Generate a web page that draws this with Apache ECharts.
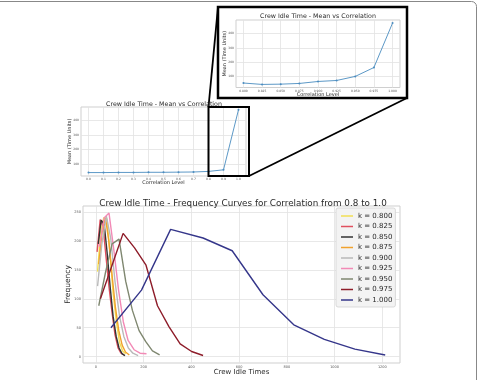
<!DOCTYPE html>
<html>
<head>
<meta charset="utf-8">
<script src="https://cdn.jsdelivr.net/npm/echarts@6/dist/echarts.min.js"></script>
<style>
html,body{margin:0;padding:0;background:#fff}
#main{width:478px;height:380px}
</style>
</head>
<body>
<div id="main"></div>
<script>
// mean idle time, whole correlation range
const corrAll = [0.0, 0.1, 0.2, 0.3, 0.4, 0.5, 0.6, 0.7, 0.8, 0.9, 1.0];
const meanAll = [42, 42, 43, 43, 44, 44, 45, 46, 50, 61, 475];
// mean idle time, zoomed range 0.8 - 1.0
const corrHigh = [0.800, 0.825, 0.850, 0.875, 0.900, 0.925, 0.950, 0.975, 1.000];
const meanHigh = [50, 40, 42, 47, 61, 68, 97, 160, 475];

const meanTicks = [100, 200, 300, 400];
const corrAllTicks = [0.0, 0.1, 0.2, 0.3, 0.4, 0.5, 0.6, 0.7, 0.8, 0.9, 1.0];
const corrHighTicks = [0.800, 0.825, 0.850, 0.875, 0.900, 0.925, 0.950, 0.975, 1.000];
const timeTicks = [0, 200, 400, 600, 800, 1000, 1200];
const freqTicks = [0, 50, 100, 150, 200, 250];

// frequency curves, one per k
const kNames = ['k = 0.800', 'k = 0.825', 'k = 0.850', 'k = 0.875', 'k = 0.900',
                'k = 0.925', 'k = 0.950', 'k = 0.975', 'k = 1.000'];
const kColors = ['#f2df55', '#e0505f', '#333333', '#f0a22e', '#b9b9b9',
                 '#f28ab6', '#7f8770', '#8e1d2a', '#35368a'];
const curveX = [
  [7, 20, 33, 46, 59, 72, 86, 99, 112, 125],
  [5, 18, 30, 43, 55, 68, 80, 93, 105, 118],
  [10, 22, 35, 47, 60, 72, 85, 97, 110, 122],
  [12, 26, 40, 54, 68, 82, 96, 110, 124, 140],
  [7, 25, 44, 62, 80, 99, 117, 136, 155, 177],
  [15, 35, 55, 75, 95, 115, 135, 160, 185, 212],
  [12, 40, 68, 97, 125, 153, 181, 209, 237, 267],
  [19, 67, 114, 162, 210, 258, 306, 353, 401, 449],
  [63, 191, 313, 449, 571, 700, 829, 957, 1085, 1212]
];
const curveY = [
  [147, 215, 240, 238, 180, 110, 60, 25, 10, 5],
  [181, 237, 225, 170, 120, 75, 38, 15, 6, 3],
  [195, 236, 228, 180, 120, 70, 35, 15, 5, 2],
  [160, 215, 240, 200, 140, 85, 45, 20, 8, 3],
  [122, 195, 243, 205, 130, 70, 35, 15, 6, 2],
  [190, 240, 248, 185, 115, 60, 28, 12, 6, 5],
  [88, 145, 195, 203, 130, 80, 45, 26, 10, 3],
  [100, 157, 213, 188, 158, 88, 52, 22, 9, 2],
  [50, 115, 220, 205, 183, 107, 55, 30, 13, 3]
];

const FONT = 'DejaVu Sans';
const chart = echarts.init(document.getElementById('main'));

function axis(gridIndex, min, max, ticks, fmt, labelSize, name, nameSize, nameGap) {
  return {
    type: 'value', gridIndex: gridIndex, min: min, max: max,
    name: name, nameLocation: 'middle', nameGap: nameGap, nameMoveOverlap: false,
    nameTextStyle: { fontFamily: FONT, fontSize: nameSize, color: '#2a2a2a' },
    axisLine: { show: false },
    axisTick: { show: false, customValues: ticks },
    axisLabel: { customValues: ticks, formatter: fmt, fontFamily: FONT,
                 fontSize: labelSize, color: '#555', margin: 2 },
    splitLine: { show: true, lineStyle: { color: '#e2e2e2', width: 0.8 } }
  };
}

const gridStyle = { show: true, borderColor: '#cfcfcf', borderWidth: 1, backgroundColor: '#fff' };

const series = [
  { type: 'line', xAxisIndex: 0, yAxisIndex: 0, data: corrAll.map((c, i) => [c, meanAll[i]]),
    symbol: 'circle', symbolSize: 2, showSymbol: true,
    lineStyle: { width: 0.9, color: '#4a8cc0' }, itemStyle: { color: '#4a8cc0' } },
  { type: 'line', xAxisIndex: 1, yAxisIndex: 1, data: corrHigh.map((c, i) => [c, meanHigh[i]]),
    symbol: 'circle', symbolSize: 2, showSymbol: true,
    lineStyle: { width: 0.9, color: '#4a8cc0' }, itemStyle: { color: '#4a8cc0' } }
];
kNames.forEach((n, i) => {
  series.push({
    name: n, type: 'line', xAxisIndex: 2, yAxisIndex: 2,
    data: curveX[i].map((x, j) => [x, curveY[i][j]]),
    showSymbol: false, color: kColors[i],
    lineStyle: { width: 1.4, color: kColors[i] }
  });
});

chart.setOption({
  animation: false,
  backgroundColor: '#fff',
  grid: [
    Object.assign({ left: 81, top: 107, width: 165, height: 69 }, gridStyle),
    Object.assign({ left: 236, top: 20, width: 164, height: 67.5 }, gridStyle),
    Object.assign({ left: 83, top: 206, width: 317, height: 157 }, gridStyle)
  ],
  xAxis: [
    axis(0, -0.05, 1.05, corrAllTicks, v => v.toFixed(1), 3, 'Correlation Level', 5, 4),
    axis(1, 0.79, 1.01, corrHighTicks, v => v.toFixed(3), 3, 'Correlation Level', 5, 4.5),
    axis(2, -54, 1274, timeTicks, v => String(v), 3.5, 'Crew Idle Times', 7, 6)
  ],
  yAxis: [
    axis(0, 18.4, 493.6, meanTicks, v => String(v), 3, 'Mean (Time Units)', 5, 8.5),
    axis(1, 18.25, 496.75, meanTicks, v => String(v), 3, 'Mean (Time Units)', 5, 8.5),
    axis(2, -10.9, 260.3, freqTicks, v => String(v), 3.5, 'Frequency', 7.5, 11)
  ],
  legend: {
    data: kNames, orient: 'vertical', left: 336, top: 208,
    padding: [4, 3, 3, 5], itemGap: 2.5, itemWidth: 12, itemHeight: 1.5,
    icon: 'rect', backgroundColor: '#f3f3f3', borderColor: '#d2d2d2',
    borderWidth: 0.8, borderRadius: 2,
    textStyle: { fontFamily: FONT, fontSize: 7, color: '#2a2a2a', lineHeight: 8 }
  },
  graphic: [
    { type: 'rect', shape: { x: -5, y: 1.5, width: 481.5, height: 400, r: 5 },
      style: { fill: null, stroke: '#888', lineWidth: 1 }, z: 100 },
    { type: 'rect', shape: { x: 218, y: 7, width: 189, height: 91 },
      style: { fill: null, stroke: '#000', lineWidth: 2.5 }, z: 100 },
    { type: 'rect', shape: { x: 208.5, y: 107, width: 40.5, height: 69 },
      style: { fill: null, stroke: '#000', lineWidth: 2 }, z: 100 },
    { type: 'line', shape: { x1: 218, y1: 7, x2: 208.5, y2: 107 },
      style: { stroke: '#000', lineWidth: 1.8 }, z: 100 },
    { type: 'line', shape: { x1: 407, y1: 98, x2: 249, y2: 176 },
      style: { stroke: '#000', lineWidth: 1.8 }, z: 100 },
    { type: 'text', x: 164, y: 104, z: 100,
      style: { text: 'Crew Idle Time - Mean vs Correlation', fontFamily: FONT, fontSize: 6.3,
               fill: '#2a2a2a', align: 'center', verticalAlign: 'middle' } },
    { type: 'text', x: 318, y: 16, z: 100,
      style: { text: 'Crew Idle Time - Mean vs Correlation', fontFamily: FONT, fontSize: 6.3,
               fill: '#2a2a2a', align: 'center', verticalAlign: 'middle' } },
    { type: 'text', x: 243, y: 203.5, z: 100,
      style: { text: 'Crew Idle Time - Frequency Curves for Correlation from 0.8 to 1.0',
               fontFamily: FONT, fontSize: 8.8, fill: '#2a2a2a', align: 'center', verticalAlign: 'middle' } }
  ],
  series: series
});
</script>
</body>
</html>
